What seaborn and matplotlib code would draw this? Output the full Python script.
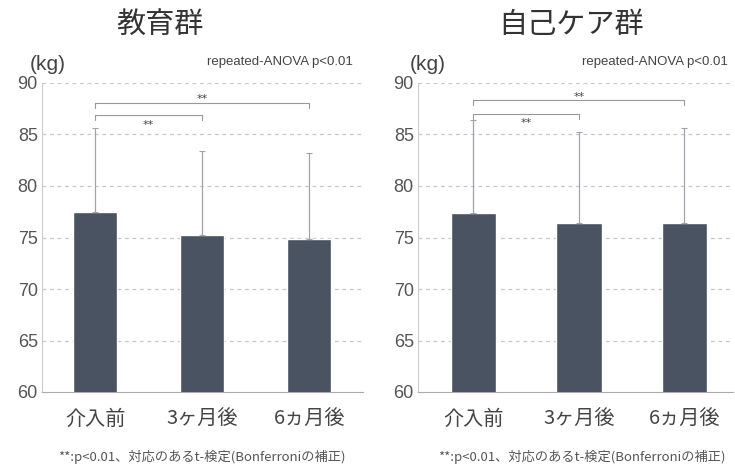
import matplotlib
matplotlib.use("Agg")
import matplotlib.pyplot as plt
import seaborn as sns
import pandas as pd
import numpy as np

sns.set_style("white")
plt.rcParams['font.family'] = ['Noto Sans CJK JP', 'DejaVu Sans']

categories = ["介入前", "3ヶ月後", "6ヵ月後"]
edu_mean = [77.5, 75.2, 74.85]
edu_upper = [85.6, 83.4, 83.2]
self_mean = [77.4, 76.4, 76.4]
self_upper = [86.4, 85.2, 85.6]
titles = ["教育群", "自己ケア群"]
yticks = [60, 65, 70, 75, 80, 85, 90]
anova_text = "repeated-ANOVA p<0.01"
footnotes = ["**:p<0.01、対応のあるt-検定(Bonferroniの補正)",
             "**:p<0.01、対応のあるt-検定(Bonferroniの補正)"]
# brackets: (start idx, end idx, line level, star level)
edu_brackets = [(0, 2, 88.05, 88.4), (0, 1, 86.9, 85.9)]
self_brackets = [(0, 2, 88.35, 88.6), (0, 1, 87.0, 86.1)]

fig = plt.figure(figsize=(7.35, 4.68), dpi=100)
W, H = 735, 468

def px_axes(x0, y0, x1, y1):
    return fig.add_axes([x0 / W, 1 - y1 / H, (x1 - x0) / W, (y1 - y0) / H])

panels = [
    dict(ax=px_axes(42, 83, 363, 392), means=edu_mean, upper=edu_upper,
         title=titles[0], xlim=(-0.495, 2.5), width=0.41, brackets=edu_brackets,
         title_x=160, foot=footnotes[0], foot_x=202, anova_right=353, kg_x=30),
    dict(ax=px_axes(418, 83, 733, 392), means=self_mean, upper=self_upper,
         title=titles[1], xlim=(-0.526, 2.46), width=0.43, brackets=self_brackets,
         title_x=571, foot=footnotes[1], foot_x=582, anova_right=728, kg_x=410),
]

bar_color = "#4a5361"
for p in panels:
    ax = p["ax"]
    df = pd.DataFrame({"cat": categories, "val": p["means"]})
    sns.barplot(data=df, x="cat", y="val", ax=ax, color=bar_color,
                width=p["width"], errorbar=None, saturation=1, zorder=3)
    x = np.arange(len(categories))
    means = np.array(p["means"])
    up = np.array(p["upper"]) - means
    ax.errorbar(x, means, yerr=[np.zeros_like(up), up], fmt="none",
                ecolor="#a0a4aa", elinewidth=0.9, capsize=2, capthick=0.8, zorder=4)
    ax.set_ylim(60, 90)
    ax.set_xlim(*p["xlim"])
    ax.set_yticks(yticks)
    ax.set_yticklabels([str(t) for t in yticks], fontsize=13, color="#555555",
                       family=["Liberation Sans", "DejaVu Sans"])
    ax.tick_params(axis="x", labelsize=14.5, length=0, colors="#444444", pad=12)
    ax.tick_params(axis="y", length=0, pad=3)
    ax.set_xlabel("")
    ax.set_ylabel("")
    for yv in yticks[1:]:
        ax.axhline(yv, color="#c8c8c8", lw=0.9, ls=(0, (3, 3)), zorder=1)
    for s in ["top", "right"]:
        ax.spines[s].set_visible(False)
    ax.spines["left"].set_color("#cccccc")
    ax.spines["bottom"].set_color("#aaaaaa")
    ax.spines["left"].set_linewidth(0.8)
    ax.spines["bottom"].set_linewidth(0.8)
    for (i0, i1, yb, ys) in p["brackets"]:
        ax.plot([i0, i0, i1, i1], [yb - 0.5, yb, yb, yb - 0.5], color="#999999",
                lw=0.8, zorder=5, clip_on=False)
        ax.text((i0 + i1) / 2, ys, "**", ha="center", va="center", fontsize=8,
                color="#444444", family=["DejaVu Sans"], zorder=6)
    fig.text(p["kg_x"] / W, 1 - 70 / H, "(kg)", fontsize=15,
             color="#444444", ha="left", va="baseline",
             family=["Liberation Sans", "DejaVu Sans"])
    fig.text(p["anova_right"] / W, 1 - 62 / H, anova_text, fontsize=9.5,
             color="#444444", ha="right", va="center",
             family=["Liberation Sans", "DejaVu Sans"])
    fig.text(p["title_x"] / W, 1 - 25 / H, p["title"], fontsize=21,
             ha="center", va="center", color="#333333")
    fig.text(p["foot_x"] / W, 1 - 457 / H, p["foot"], fontsize=9.5,
             ha="center", va="center", color="#555555")

fig.savefig("out.png", dpi=100)
